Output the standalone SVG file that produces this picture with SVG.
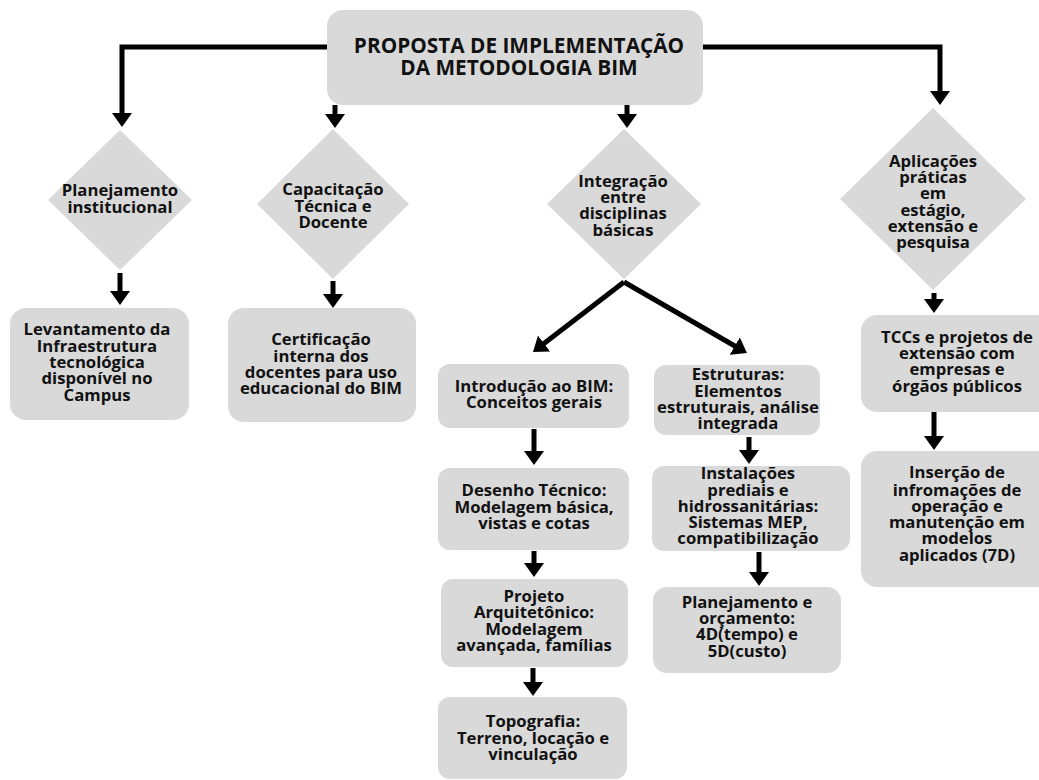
<svg xmlns="http://www.w3.org/2000/svg" width="1039" height="780" viewBox="0 0 1039 780">
<style>
.n{fill:#d9d9d9}
.t{font-family:"Open Sans","DejaVu Sans",sans-serif;font-weight:700;font-size:16.7px;fill:#111;text-anchor:middle}
.h{font-size:20.8px}
.c{fill:none;stroke:#000;stroke-width:5;marker-end:url(#a)}
</style>
<defs>
<marker id="a" viewBox="0 0 14 20" refX="1" refY="10" markerWidth="14" markerHeight="20" markerUnits="userSpaceOnUse" orient="auto">
<path d="M0,0 L14,10 L0,20 z" fill="#000"/>
</marker>
</defs>
<rect width="1039" height="780" fill="#fff"/>
<g id="connectors">
<path class="c" d="M327,47 H122 V114"/>
<path class="c" d="M703,47 H940 V92"/>
<path class="c" d="M335,105 V115"/>
<path class="c" d="M627,105 V115"/>
<path class="c" d="M120,273 V292"/>
<path class="c" d="M333,281 V295"/>
<path class="c" d="M624,282 L543.3,344.1"/>
<path class="c" d="M624,282 L735.7,346.5"/>
<path class="c" d="M934,293 V300"/>
<path class="c" d="M934,412 V437"/>
<path class="c" d="M534,429 V452"/>
<path class="c" d="M534,551 V564"/>
<path class="c" d="M533,668 V683"/>
<path class="c" d="M749,437 V451"/>
<path class="c" d="M759,552 V573"/>
</g>
<g id="title">
<rect class="n" x="327" y="10" width="376" height="95" rx="16"/>
<text class="t h" x="519" y="53">PROPOSTA DE IMPLEMENTAÇÃO</text>
<text class="t h" x="519" y="75">DA METODOLOGIA BIM</text>
</g>
<g id="d1">
<polygon class="n" points="120,130 192,200 120,270 48,200"/>
<text class="t" x="120" y="196">Planejamento</text>
<text class="t" x="120" y="213">institucional</text>
</g>
<g id="d2">
<polygon class="n" points="333,129 409,204 333,279 257,204"/>
<text class="t" x="333" y="195">Capacitação</text>
<text class="t" x="333" y="212">Técnica e</text>
<text class="t" x="333" y="228">Docente</text>
</g>
<g id="d3">
<polygon class="n" points="624,129 701,204 624,279 547,204"/>
<text class="t" x="623" y="187">Integração</text>
<text class="t" x="623" y="203">entre</text>
<text class="t" x="623" y="219">disciplinas</text>
<text class="t" x="623" y="236">básicas</text>
</g>
<g id="d4">
<polygon class="n" points="933,108 1026,199 933,290 840,199"/>
<text class="t" x="933" y="167">Aplicações</text>
<text class="t" x="933" y="183">práticas</text>
<text class="t" x="933" y="199">em</text>
<text class="t" x="933" y="216">estágio,</text>
<text class="t" x="933" y="232">extensão e</text>
<text class="t" x="933" y="248">pesquisa</text>
</g>
<g id="b1">
<rect class="n" x="10" y="308" width="179" height="112" rx="16"/>
<text class="t" x="97" y="335">Levantamento da</text>
<text class="t" x="97" y="352">Infraestrutura</text>
<text class="t" x="97" y="368">tecnológica</text>
<text class="t" x="97" y="384">disponível no</text>
<text class="t" x="97" y="401">Campus</text>
</g>
<g id="b2">
<rect class="n" x="228" y="308" width="188" height="114" rx="16"/>
<text class="t" x="321" y="345">Certificação</text>
<text class="t" x="321" y="362">interna dos</text>
<text class="t" x="321" y="378">docentes para uso</text>
<text class="t" x="321" y="394">educacional do BIM</text>
</g>
<g id="b3">
<rect class="n" x="438" y="364" width="191" height="64" rx="12"/>
<text class="t" x="534" y="392">Introdução ao BIM:</text>
<text class="t" x="534" y="408">Conceitos gerais</text>
</g>
<g id="b4">
<rect class="n" x="438" y="468" width="191" height="82" rx="12"/>
<text class="t" x="534" y="496">Desenho Técnico:</text>
<text class="t" x="534" y="513">Modelagem básica,</text>
<text class="t" x="534" y="529">vistas e cotas</text>
</g>
<g id="b5">
<rect class="n" x="441" y="579" width="187" height="88" rx="12"/>
<text class="t" x="534" y="602">Projeto</text>
<text class="t" x="534" y="618">Arquitetônico:</text>
<text class="t" x="534" y="635">Modelagem</text>
<text class="t" x="534" y="651">avançada, famílias</text>
</g>
<g id="b6">
<rect class="n" x="438" y="697" width="189" height="82" rx="12"/>
<text class="t" x="533" y="727">Topografia:</text>
<text class="t" x="533" y="744">Terreno, locação e</text>
<text class="t" x="533" y="760">vinculação</text>
</g>
<g id="b7">
<rect class="n" x="654" y="365" width="166" height="70" rx="12"/>
<text class="t" x="738" y="380">Estruturas:</text>
<text class="t" x="738" y="397">Elementos</text>
<text class="t" x="738" y="413">estruturais, análise</text>
<text class="t" x="738" y="429">integrada</text>
</g>
<g id="b8">
<rect class="n" x="652" y="466" width="198" height="85" rx="12"/>
<text class="t" x="748" y="479">Instalações</text>
<text class="t" x="748" y="496">prediais e</text>
<text class="t" x="748" y="512">hidrossanitárias:</text>
<text class="t" x="748" y="528">Sistemas MEP,</text>
<text class="t" x="748" y="544">compatibilização</text>
</g>
<g id="b9">
<rect class="n" x="653" y="587" width="188" height="86" rx="14"/>
<text class="t" x="747" y="608">Planejamento e</text>
<text class="t" x="747" y="624">orçamento:</text>
<text class="t" x="747" y="640">4D(tempo) e</text>
<text class="t" x="747" y="657">5D(custo)</text>
</g>
<g id="b10">
<rect class="n" x="861" y="315" width="192" height="97" rx="16"/>
<text class="t" x="957" y="343">TCCs e projetos de</text>
<text class="t" x="957" y="359">extensão com</text>
<text class="t" x="957" y="375">empresas e</text>
<text class="t" x="957" y="392">órgãos públicos</text>
</g>
<g id="b11">
<rect class="n" x="861" y="451" width="192" height="136" rx="16"/>
<text class="t" x="957" y="478">Inserção de</text>
<text class="t" x="957" y="496">infromações de</text>
<text class="t" x="957" y="512">operação e</text>
<text class="t" x="957" y="528">manutenção em</text>
<text class="t" x="957" y="544">modelos</text>
<text class="t" x="957" y="561">aplicados (7D)</text>
</g>
</svg>
